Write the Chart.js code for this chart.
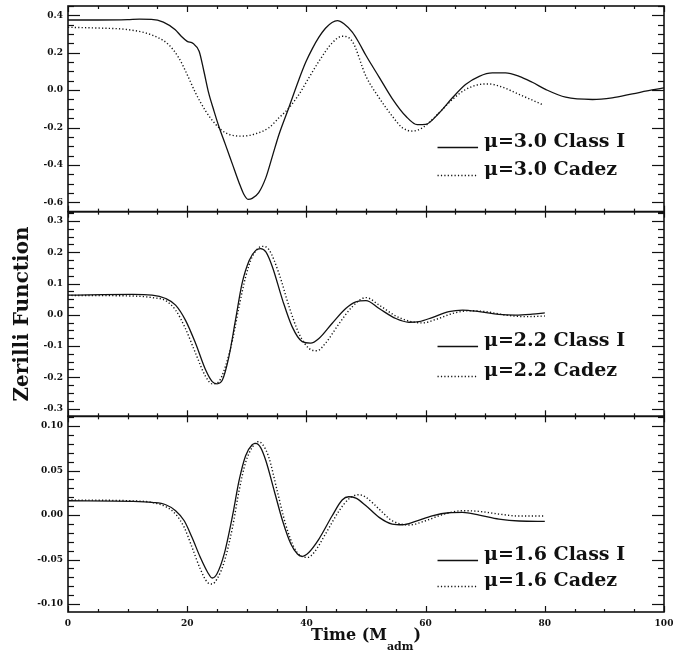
<!DOCTYPE html>
<html>
<head>
<meta charset="utf-8">
<script src="https://cdn.jsdelivr.net/npm/chart.js@4.4.1/dist/chart.umd.min.js"></script>
<style>
  html, body { margin: 0; padding: 0; background: #fff; }
  #wrap { width: 673px; height: 654px; }
</style>
</head>
<body>
<div id="wrap"><canvas id="zerilli" width="673" height="654"></canvas></div>
<script>
// mu = 3.0
let timeA1 = [0, 5, 10, 12, 14, 16, 18, 19, 20, 21, 22, 22.8, 23.6, 24.5, 25.3, 26.4, 27.6, 28.7, 29.5, 30.2, 30.9, 32, 33.2, 34.3, 35.4, 37, 38.75, 39.9, 41, 42.1, 43.2, 44.3, 45.2, 46.3, 47.7, 48.8, 50, 52.2, 54.4, 56.7, 58.6, 60, 62.3, 64.5, 66.7, 69, 71.2, 73.4, 75.7, 77.9, 80.2, 83.5, 88, 91.3, 94.7, 98, 100];
let zerA1 = [0.375, 0.375, 0.377, 0.38, 0.379, 0.364, 0.323, 0.288, 0.261, 0.249, 0.208, 0.101, -0.015, -0.112, -0.193, -0.29, -0.397, -0.495, -0.557, -0.584, -0.579, -0.548, -0.468, -0.353, -0.237, -0.098, 0.057, 0.15, 0.222, 0.283, 0.331, 0.362, 0.372, 0.355, 0.31, 0.255, 0.185, 0.07, -0.045, -0.14, -0.185, -0.183, -0.121, -0.041, 0.03, 0.074, 0.092, 0.092, 0.074, 0.042, 0.003, -0.038, -0.05, -0.041, -0.02, 0.001, 0.012];
let timeA2 = [0, 5.2, 9.65, 13, 15.2, 16.9, 18.6, 20, 21.4, 23.1, 24.8, 26.4, 29.2, 31.5, 33.7, 35.4, 37, 38.75, 40.4, 42.1, 44.3, 46, 47.7, 50, 52.2, 54.4, 56.1, 57.8, 59.5, 61.7, 64.5, 66.7, 69, 70.6, 72.9, 75.7, 79.6];
let zerA2 = [0.336, 0.332, 0.325, 0.306, 0.279, 0.243, 0.172, 0.083, -0.015, -0.112, -0.184, -0.228, -0.246, -0.233, -0.201, -0.148, -0.098, -0.023, 0.065, 0.154, 0.252, 0.288, 0.261, 0.074, -0.041, -0.139, -0.201, -0.219, -0.201, -0.139, -0.05, 0.003, 0.03, 0.033, 0.016, -0.023, -0.077];

// mu = 2.2
let timeB1 = [0, 10.8, 14.1, 16.4, 18.05, 19.7, 21.4, 23.1, 24.2, 25, 25.9, 27, 28.1, 29.2, 30.4, 31.5, 32.3, 33.2, 34.3, 36, 37.6, 39.3, 40.7, 42.1, 44.3, 46.6, 48.3, 50, 52.2, 55, 57.2, 58.9, 61.1, 63.9, 66.2, 69, 72.3, 75.1, 77.9, 80];
let zerB1 = [0.063, 0.065, 0.063, 0.052, 0.031, -0.017, -0.091, -0.177, -0.214, -0.221, -0.209, -0.134, -0.017, 0.1, 0.174, 0.206, 0.212, 0.201, 0.153, 0.047, -0.038, -0.086, -0.091, -0.076, -0.028, 0.02, 0.041, 0.045, 0.02, -0.012, -0.024, -0.022, -0.009, 0.01, 0.015, 0.01, 0.001, -0.001, 0.002, 0.006];
let timeB2 = [0, 10.8, 14.1, 16.4, 18.05, 19.7, 21.4, 23.1, 24.2, 25.3, 26.4, 27.6, 28.7, 29.8, 30.9, 32.6, 33.7, 35.4, 37.1, 38.75, 40.4, 41.8, 43.2, 45.5, 47.7, 50, 52.2, 55, 57.2, 59.5, 61.7, 64.5, 67.3, 70.1, 73.4, 76.8, 80];
let zerB2 = [0.062, 0.06, 0.055, 0.045, 0.015, -0.044, -0.123, -0.198, -0.221, -0.214, -0.166, -0.081, 0.026, 0.121, 0.185, 0.219, 0.209, 0.132, 0.026, -0.06, -0.107, -0.115, -0.091, -0.028, 0.026, 0.055, 0.031, -0.004, -0.02, -0.026, -0.015, 0.004, 0.013, 0.01, -0.001, -0.006, -0.004];

// mu = 1.6
let timeC1 = [0, 10.8, 14.1, 16.4, 18.05, 19.5, 20.8, 22.2, 23.4, 24.2, 25, 26.2, 27.6, 28.7, 29.8, 30.9, 31.5, 32.3, 33.2, 34.6, 36, 37.4, 38.5, 39.3, 40.4, 42.1, 44.3, 46, 47.1, 48.3, 50, 52.2, 54.4, 56.1, 58.3, 61.1, 63.9, 66.2, 69, 72.3, 75.7, 80];
let zerC1 = [0.0161, 0.0154, 0.0142, 0.0116, 0.0049, -0.0064, -0.025, -0.0476, -0.064, -0.0708, -0.066, -0.044, -0.0009, 0.0386, 0.0667, 0.079, 0.0805, 0.076, 0.061, 0.0273, -0.0064, -0.0326, -0.0438, -0.0464, -0.042, -0.027, -0.0011, 0.0169, 0.0206, 0.019, 0.0105, -0.0026, -0.0101, -0.0109, -0.0071, -0.0008, 0.0026, 0.003, 0, -0.0045, -0.0067, -0.0071];
let timeC2 = [0, 10.8, 14.1, 16.4, 18.05, 19.5, 20.8, 22.2, 23.4, 24.2, 25, 26.2, 27.6, 28.7, 29.8, 30.9, 31.8, 32.6, 33.7, 35.1, 36.5, 37.9, 39, 40.2, 41.3, 43.2, 45.5, 47.1, 48.8, 50, 52.2, 54.4, 57.2, 60, 62.8, 66.2, 69, 72.3, 75.7, 80];
let zerC2 = [0.0169, 0.016, 0.0142, 0.0094, 0.0011, -0.0139, -0.036, -0.0607, -0.0757, -0.0775, -0.072, -0.053, -0.0139, 0.0273, 0.0592, 0.076, 0.0824, 0.0798, 0.0648, 0.0273, -0.0101, -0.036, -0.0457, -0.0476, -0.042, -0.0213, 0.0049, 0.018, 0.0229, 0.0199, 0.0067, -0.0064, -0.0112, -0.0064, 0.0004, 0.0049, 0.0041, 0.0011, -0.0011, -0.0011];

let panelNames = ["\u03bc=3.0", "\u03bc=2.2", "\u03bc=1.6"];
let seriesNames = ["Class I", "Cadez"];
let yMins = [-0.65, -0.325, -0.109];
let yMaxs = [0.45, 0.33, 0.111];
let yMinorSteps = [0.05, 0.025, 0.01];
let yMajorSteps = [0.2, 0.1, 0.05];
let yDecimals = [1, 1, 2];
let xMinorStep = 5;
let xMajorStep = 20;

// where each panel's key sits, in that panel's own units
let keyRowsAt = [[-0.305, -0.454], [-0.099, -0.195], [-0.05, -0.0795]];

let panelIds = ["yTop", "yMid", "yBot"];
let ink = "#111111";
let serif = "DejaVu Serif";

function toPoints(xs, ys) {
    let pts = [];
    for (let i = 0; i < xs.length; i++) {
        pts.push({ x: xs[i], y: ys[i] });
    }
    return pts;
}

function onStep(v, step) {
    let r = v / step;
    return Math.abs(r - Math.round(r)) < 1e-6;
}

// tick values on whole multiples of step inside [lo, hi]
function stepTicks(lo, hi, step) {
    let out = [];
    let k0 = Math.ceil(lo / step - 1e-9);
    let k1 = Math.floor(hi / step + 1e-9);
    for (let k = k0; k <= k1; k++) {
        out.push({ value: Math.round(k * step * 1e6) / 1e6 });
    }
    return out;
}

function makeSet(xs, ys, axisId, dotted) {
    return {
        data: toPoints(xs, ys),
        yAxisID: axisId,
        borderColor: ink,
        borderWidth: dotted ? 1.4 : 1.3,
        borderDash: dotted ? [1.2, 2.2] : [],
        pointRadius: 0,
        fill: false,
        cubicInterpolationMode: "monotone"
    };
}

function makeYAxis(p, withTitle) {
    let axis = {
        type: "linear",
        position: "left",
        stack: "panels",
        stackWeight: [206, 205, 196][p],
        min: yMins[p],
        max: yMaxs[p],
        grid: { display: false, drawTicks: false },
        border: { display: false },
        ticks: {
            autoSkip: false,
            padding: 5,
            color: ink,
            font: { family: serif, weight: "bold", size: 9 },
            callback: function (v) {
                if (!onStep(v, yMajorSteps[p])) {
                    return "";
                }
                return Number(v).toFixed(yDecimals[p]);
            }
        },
        afterBuildTicks: function (scale) {
            scale.ticks = stepTicks(yMins[p], yMaxs[p], yMinorSteps[p]);
        },
        afterFit: function (scale) {
            scale.width = 68;
            scale.paddingTop = 0;
            scale.paddingBottom = 0;
        }
    };
    if (withTitle) {
        axis.title = {
            display: true,
            text: "Zerilli Function",
            color: ink,
            font: { family: serif, weight: "bold", size: 20 },
            padding: { top: 11, bottom: 0 }
        };
    }
    return axis;
}

function strokeLine(ctx, x1, y1, x2, y2) {
    ctx.beginPath();
    ctx.moveTo(x1, y1);
    ctx.lineTo(x2, y2);
    ctx.stroke();
}

let framePlugin = {
    id: "framePlugin",
    afterDraw: function (chart) {
        let ctx = chart.ctx;
        let area = chart.chartArea;
        let xs = chart.scales.x;
        ctx.save();
        ctx.strokeStyle = ink;
        ctx.fillStyle = ink;

        for (let p = 0; p < panelIds.length; p++) {
            let ys = chart.scales[panelIds[p]];
            let top = ys.top;
            let bottom = ys.bottom;

            // y ticks on both sides
            ctx.lineWidth = 1.2;
            ys.ticks.forEach(function (tk) {
                let yy = Math.round(ys.getPixelForValue(tk.value)) + 0.5;
                let len = onStep(tk.value, yMajorSteps[p]) ? 12 : 6;
                strokeLine(ctx, area.left, yy, area.left + len, yy);
                strokeLine(ctx, area.right, yy, area.right - len, yy);
            });

            // x ticks on top and bottom of each panel
            xs.ticks.forEach(function (tk) {
                let xx = Math.round(xs.getPixelForValue(tk.value)) + 0.5;
                let len = onStep(tk.value, xMajorStep) ? 6 : 3;
                strokeLine(ctx, xx, top, xx, top + len);
                strokeLine(ctx, xx, bottom, xx, bottom - len);
            });

            ctx.lineWidth = 1.6;
            ctx.strokeRect(area.left, top, area.right - area.left, bottom - top);

            // key
            let x1 = xs.getPixelForValue(62);
            let x2 = xs.getPixelForValue(68.8);
            let xt = xs.getPixelForValue(69.8);
            ctx.font = "bold 19px '" + serif + "'";
            ctx.textAlign = "left";
            ctx.textBaseline = "alphabetic";
            for (let s = 0; s < seriesNames.length; s++) {
                let yy = Math.round(ys.getPixelForValue(keyRowsAt[p][s])) + 0.5;
                ctx.lineWidth = s === 0 ? 1.3 : 1.4;
                ctx.setLineDash(s === 0 ? [] : [1.2, 2.2]);
                strokeLine(ctx, x1, yy, x2, yy);
                ctx.setLineDash([]);
                ctx.fillText(panelNames[p] + " " + seriesNames[s], xt, yy - 1);
            }
        }

        // x title with subscript
        let mainFont = "bold 16px '" + serif + "'";
        let subFont = "bold 11px '" + serif + "'";
        ctx.font = mainFont;
        let w1 = ctx.measureText("Time (M").width;
        let w3 = ctx.measureText(")").width;
        ctx.font = subFont;
        let w2 = ctx.measureText("adm").width;
        let startX = (area.left + area.right) / 2 - (w1 + w2 + w3) / 2;
        let base = 640;
        ctx.textAlign = "left";
        ctx.font = mainFont;
        ctx.fillText("Time (M", startX, base);
        ctx.font = subFont;
        ctx.fillText("adm", startX + w1, base + 10);
        ctx.font = mainFont;
        ctx.fillText(")", startX + w1 + w2, base);

        ctx.restore();
    }
};

let canvas = document.getElementById("zerilli");

let myChart = new Chart(canvas, {
    type: "line",
    data: {
        datasets: [
            makeSet(timeC1, zerC1, "yBot", false),
            makeSet(timeC2, zerC2, "yBot", true),
            makeSet(timeB1, zerB1, "yMid", false),
            makeSet(timeB2, zerB2, "yMid", true),
            makeSet(timeA1, zerA1, "yTop", false),
            makeSet(timeA2, zerA2, "yTop", true)
        ]
    },
    options: {
        responsive: false,
        animation: false,
        maintainAspectRatio: false,
        layout: { padding: { top: 6, right: 9, left: 0, bottom: 0 } },
        plugins: {
            legend: { display: false },
            tooltip: { enabled: false }
        },
        scales: {
            x: {
                type: "linear",
                position: "bottom",
                min: 0,
                max: 100,
                grid: { display: false, drawTicks: false },
                border: { display: false },
                ticks: {
                    autoSkip: false,
                    maxRotation: 0,
                    padding: 6,
                    color: ink,
                    font: { family: serif, weight: "bold", size: 9 },
                    callback: function (v) {
                        return onStep(v, xMajorStep) ? String(v) : "";
                    }
                },
                afterBuildTicks: function (scale) {
                    scale.ticks = stepTicks(0, 100, xMinorStep);
                },
                afterFit: function (scale) {
                    scale.height = 42;
                    scale.paddingLeft = 0;
                    scale.paddingRight = 0;
                }
            },
            yBot: makeYAxis(2, false),
            yMid: makeYAxis(1, true),
            yTop: makeYAxis(0, false)
        }
    },
    plugins: [framePlugin]
});
</script>
</body>
</html>
